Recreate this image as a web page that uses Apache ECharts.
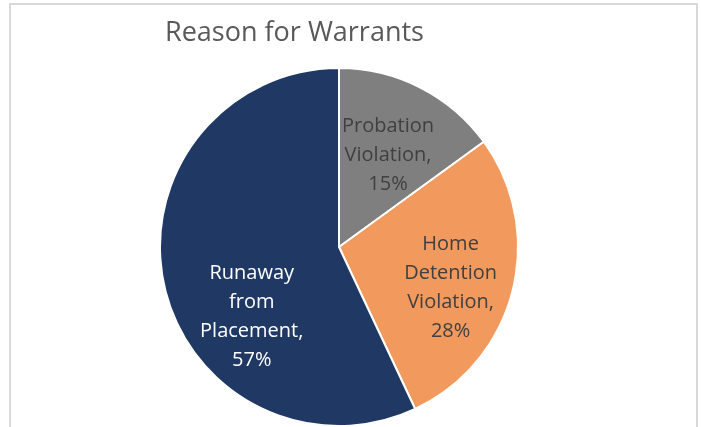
<!DOCTYPE html>
<html>
<head>
<meta charset="utf-8">
<script src="https://cdn.jsdelivr.net/npm/echarts@6/dist/echarts.min.js"></script>
<style>
  html, body { margin: 0; padding: 0; background: #fff; }
  #chart { width: 701px; height: 427px; }
</style>
</head>
<body>
<div id="chart"></div>
<script>
// Reason for Warrants - pie
var titleText = 'Reason for Warrants';
var reasons = ['Probation\nViolation', 'Home\nDetention\nViolation', 'Runaway\nfrom\nPlacement'];
var shares = [15, 28, 57];
var sliceColors = ['#7f7f7f', '#f29a5e', '#203864'];
var labelColors = ['#404040', '#404040', '#ffffff'];
// nudge labels to where Excel put them
var labelShift = [[7, -9], [22, 18], [3, 50]];

(function() {
    var myChart = echarts.init(document.getElementById('chart'));

    var pieData = reasons.map(function(name, i) {
        return {
            name: name,
            value: shares[i],
            itemStyle: { color: sliceColors[i] },
            label: { color: labelColors[i] }
        };
    });

    var option = {
        backgroundColor: '#fff',
        animation: false,
        title: {
            text: titleText,
            left: 160,
            top: 15,
            textStyle: {
                fontFamily: 'Open Sans',
                fontSize: 27,
                fontWeight: 'normal',
                color: '#595959'
            }
        },
        graphic: [{
            type: 'rect',
            shape: { x: 10, y: 4, width: 687, height: 440 },
            style: { fill: 'none', stroke: '#d9d9d9', lineWidth: 2 },
            silent: true
        }],
        series: [{
            type: 'pie',
            center: [339, 247],
            radius: 179,
            startAngle: 90,
            clockwise: true,
            data: pieData,
            itemStyle: {
                borderColor: '#fff',
                borderWidth: 2
            },
            label: {
                show: true,
                position: 'inside',
                fontFamily: 'Open Sans',
                fontSize: 20,
                lineHeight: 29,
                align: 'center',
                formatter: function(p) {
                    return p.name + ',\n' + p.value + '%';
                }
            },
            labelLine: { show: false },
            labelLayout: function(p) {
                var s = labelShift[p.dataIndex];
                return { dx: s[0], dy: s[1] };
            },
            emphasis: { disabled: true }
        }]
    };

    myChart.setOption(option);

    window.addEventListener('resize', function() {
        myChart.resize();
    })
})()
</script>
</body>
</html>
